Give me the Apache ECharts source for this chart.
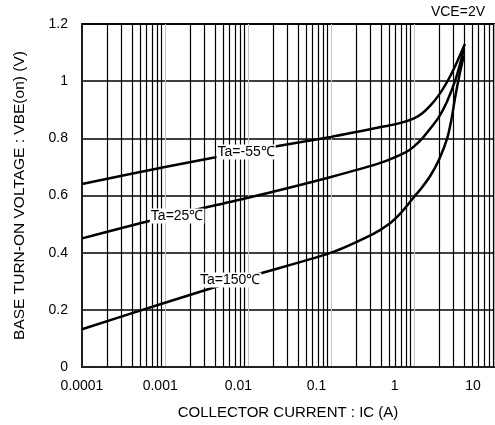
<!DOCTYPE html>
<html>
<head>
<meta charset="utf-8">
<script src="https://cdn.jsdelivr.net/npm/echarts@6/dist/echarts.min.js"></script>
<style>
html,body{margin:0;padding:0;background:#fff;}
#chart{width:495px;height:425px;}
</style>
</head>
<body>
<div id="chart"></div>
<script>
// tick labels
var xLabels = ['0.0001','0.001','0.01','0.1','1','10'];
var yLabels = ['0','0.2','0.4','0.6','0.8','1','1.2'];
// curves: collector current IC (A) / VBE(on) (V)
var icM55 = [0.0001,0.001,0.01,0.1,0.5,0.71,1,1.26,1.58,2,2.51,3.16,4.1];
var vbeM55 = [0.64,0.70,0.755,0.805,0.845,0.855,0.87,0.888,0.915,0.952,0.998,1.055,1.13];
var ic25 = [0.0001,0.001,0.01,0.1,0.4,0.8,1,1.26,1.58,2,2.51,3.16,3.98];
var vbe25 = [0.45,0.525,0.592,0.665,0.715,0.752,0.772,0.80,0.835,0.875,0.93,1.005,1.11];
var ic150 = [0.0001,0.001,0.01,0.1,0.32,0.5,0.7,1,1.26,1.58,2,2.51,2.82,3.16,3.55,3.98];
var vbe150 = [0.132,0.225,0.315,0.40,0.465,0.50,0.54,0.595,0.63,0.67,0.725,0.80,0.865,0.95,1.025,1.09];
// curve labels
var tagNames = ['Ta=-55℃','Ta=25℃','Ta=150℃'];
var tagIc = [0.0095,0.0014,0.0061];
var tagVbe = [0.752,0.528,0.304];

function pairs(xs, ys){
	var out = [];
	for(var i=0;i<xs.length;i++){
		out.push([xs[i], ys[i]]);
	}
	return out;
}
//细分网格 2..9
var minorLines = [];
for(var d=-4; d<=0; d++){
	for(var k=2; k<=9; k++){
		minorLines.push({xAxis: k*Math.pow(10,d)});
	}
}
var curveStyle = {color:'#000', width:2.5};
function tag(i){
	return {
		symbol:'rect',
		symbolSize:0,
		data:[{coord:[tagIc[i], tagVbe[i]], value:tagNames[i]}],
		label:{
			show:true,
			position:'inside',
			formatter:'{c}',
			color:'#000',
			fontSize:14,
			backgroundColor:'#fff',
			padding:[1,1,0,1]
		}
	};
}
function curve(name, xs, ys, i){
	return {
		name:name,
		type:'line',
		smooth:0.3,
		showSymbol:false,
		data:pairs(xs, ys),
		lineStyle:curveStyle,
		z:3,
		markPoint:tag(i)
	};
}
var myChart = echarts.init(document.getElementById('chart'));
var option = {
	animation:false,
	textStyle:{fontFamily:'Liberation Sans, Arial, sans-serif'},
	title:{
		text:'VCE=2V',
		right:5,
		top:0,
		textStyle:{fontSize:14,fontWeight:'normal',color:'#000'}
	},
	grid:{
		left:82, top:24, right:1, bottom:58,
		outerBoundsMode:'none',
		containLabel:false,
		show:true,
		borderColor:'#231f20',
		borderWidth:2
	},
	xAxis:[
		{
			type:'log',
			logBase:10,
			min:0.0001,
			max:9.2,
			axisLine:{show:true,lineStyle:{color:'#231f20',width:2}},
			axisTick:{show:false},
			axisLabel:{show:false},
			splitLine:{show:true,lineStyle:{color:'#c4c4c4',width:1}}
		},
		{
			type:'log',
			logBase:10,
			min:0.0001,
			max:18.6,
			position:'bottom',
			axisLine:{show:false},
			axisTick:{show:false},
			splitLine:{show:false},
			axisLabel:{
				fontSize:14,
				color:'#000',
				margin:12,
				formatter:function(v){
					var p = Math.log10(v);
					if(Math.abs(p-Math.round(p))>1e-6){
						return '';
					}
					return xLabels[Math.round(p)+4];
				}
			},
			name:'COLLECTOR CURRENT : IC (A)',
			nameLocation:'middle',
			nameGap:38,
			nameTextStyle:{fontSize:15,color:'#000'}
		}
	],
	yAxis:{
		type:'value',
		min:0,
		max:1.2,
		interval:0.2,
		axisLine:{show:true,lineStyle:{color:'#231f20',width:2}},
		axisTick:{show:false},
		axisLabel:{
			fontSize:14,
			color:'#000',
			margin:14,
			formatter:function(v){
				return yLabels[Math.round(v/0.2)];
			}
		},
		splitLine:{show:true,lineStyle:{color:'#000',width:1.5}},
		name:'BASE TURN-ON VOLTAGE : VBE(on) (V)',
		nameLocation:'middle',
		nameGap:54,
		nameTextStyle:{fontSize:15.5,color:'#000'}
	},
	series:[
		{
			name:'grid',
			type:'line',
			data:[],
			silent:true,
			z:1,
			markLine:{
				silent:true,
				symbol:'none',
				precision:8,
				label:{show:false},
				lineStyle:{color:'#000',width:1.2,type:'solid'},
				data:minorLines
			}
		},
		curve('Ta=-55', icM55, vbeM55, 0),
		curve('Ta=25', ic25, vbe25, 1),
		curve('Ta=150', ic150, vbe150, 2)
	]
};
myChart.setOption(option);
</script>
</body>
</html>
